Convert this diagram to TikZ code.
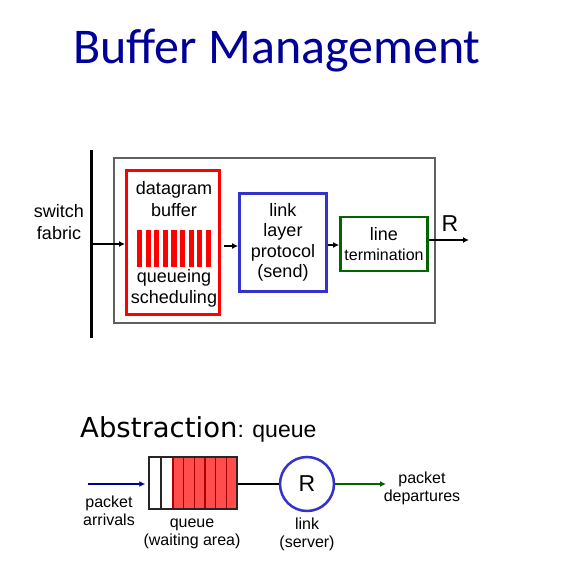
\documentclass[tikz,border=0pt]{standalone}
\usepackage{fontspec}
\setmainfont{Liberation Sans}
\newfontfamily\calfont{Carlito}
\newfontfamily\absfont{DejaVu Sans}
\usetikzlibrary{arrows.meta, positioning, shadows}
\definecolor{cTitle}{RGB}{0,0,153}
\definecolor{cFrame}{RGB}{96,96,96}
\definecolor{cRed}{RGB}{255,0,0}
\definecolor{cBlue}{RGB}{51,51,204}
\definecolor{cGreen}{RGB}{0,102,0}
\definecolor{cCell}{RGB}{255,77,77}
\definecolor{cCellEdge}{RGB}{170,0,0}

\begin{document}
\begin{tikzpicture}[x=1pt, y=-1pt,
            blk/.style={draw, line width=2.8pt, inner sep=0pt, align=center, font=\fontsize{18}{20.5}\selectfont},
            txt/.style={align=center, inner sep=0pt, font=\fontsize{18}{21.5}\selectfont},
            lbl/.style={align=center, inner sep=0pt, font=\fontsize{16}{18}\selectfont},
            ar/.style={-{Latex[length=6pt, width=6pt]}, line width=2pt}]
            \useasboundingbox (0,0) rectangle (565,578);
            \node[text=cTitle, font=\calfont\fontsize{50}{52}\selectfont] (title) at (277,51) {Buffer Management};
            \node[draw=cFrame, line width=2pt, minimum width=321pt, minimum height=165pt] (frame) at (274.5,240.5) {};
            \node[blk, draw=cRed, line width=3pt, minimum width=93pt, minimum height=144pt] (buf) at (173,242.5) {};
            \node[blk, draw=cBlue, minimum width=87pt, minimum height=98pt] (llp) at (283,242.5) {link\\layer\\protocol\\(send)};
            \node[blk, draw=cGreen, minimum width=87pt, minimum height=54pt] (term) at (384,244) {line\\[-1pt]{\fontsize{16}{18}\selectfont termination}};
            \node[txt] (bufTop) at (174,199) {datagram\\buffer};
            \node[txt] (bufBot) at (174,288.5) {queueing\\scheduling};
            \node[txt] (fabric) at (59,222) {switch\\fabric};
            \node[txt, font=\fontsize{23}{25}\selectfont] (rate) at (450,224) {R};
            \coordinate (fabTop) at (91,150);
            \coordinate (fabBot) at (91,338);
            \coordinate (fabOut) at (91,244);
            \coordinate (out) at (469,240);
            \foreach \i in {0,...,8} {
                \fill[cRed] (137+8.6*\i,230) rectangle ++(5.2,37);
            }
            \draw[line width=3pt] (fabTop) -- (fabBot);
            \draw[ar] (fabOut) -- (buf.west |- fabOut);
            \draw[ar, shorten <=3pt] (buf.east |- 0,246) -- (llp.west |- 0,246);
            \draw[ar] (llp.east |- 0,245) -- (term.west |- 0,245);
            \draw[ar] (term.east |- out) -- (out);
            \node[anchor=base west, inner sep=0pt] (abs) at (80,437) {\absfont\fontsize{27.5}{30}\selectfont Abstraction{\rmfamily\fontsize{23}{26}\selectfont: queue}};
            \node[draw=black!85, line width=1.5pt, minimum width=88pt, minimum height=52pt, inner sep=0pt, drop shadow={opacity=0.25, shadow xshift=1pt, shadow yshift=-1pt}, fill=white] (queue) at (193,483) {};
            \fill[cCell] (173,457) rectangle (237,509);
            \foreach \k in {1,...,5} {
                \draw[cCellEdge, line width=1.2pt] (173+10.67*\k,457) -- (173+10.67*\k,509);
            }
            \draw[black!85, line width=1.5pt] (161,457) -- (161,509);
            \draw[cCellEdge, line width=1.5pt] (173,457) -- (173,509);
            \draw[black!85, line width=1.5pt] (149,457) rectangle (237,509);
            \node[circle, draw=cBlue, line width=2.5pt, minimum size=54pt, fill=white, font=\fontsize{23}{25}\selectfont, drop shadow={opacity=0.25, shadow xshift=1pt, shadow yshift=-1pt}] (srv) at (307,484) {R};
            \coordinate (arr) at (88,484);
            \coordinate (dep) at (386,484);
            \draw[-{Latex[length=6pt, width=6pt]}, cTitle, line width=1.5pt, shorten >=3pt] (arr) -- (queue.west |- arr);
            \draw[line width=1.5pt] (queue.east |- srv) -- (srv.west);
            \draw[-{Latex[length=6pt, width=6pt]}, cGreen, line width=1.5pt] (srv.east) -- (dep);
            \node[lbl] (arrLbl) at (109,511) {packet\\arrivals};
            \node[lbl] (queueLbl) at (192,534) {queue\\(waiting area)};
            \node[lbl] (srvLbl) at (307,534) {link\\(server)};
            \node[lbl] (depLbl) at (422,488.5) {packet\\departures};
        \end{tikzpicture}
\end{document}
